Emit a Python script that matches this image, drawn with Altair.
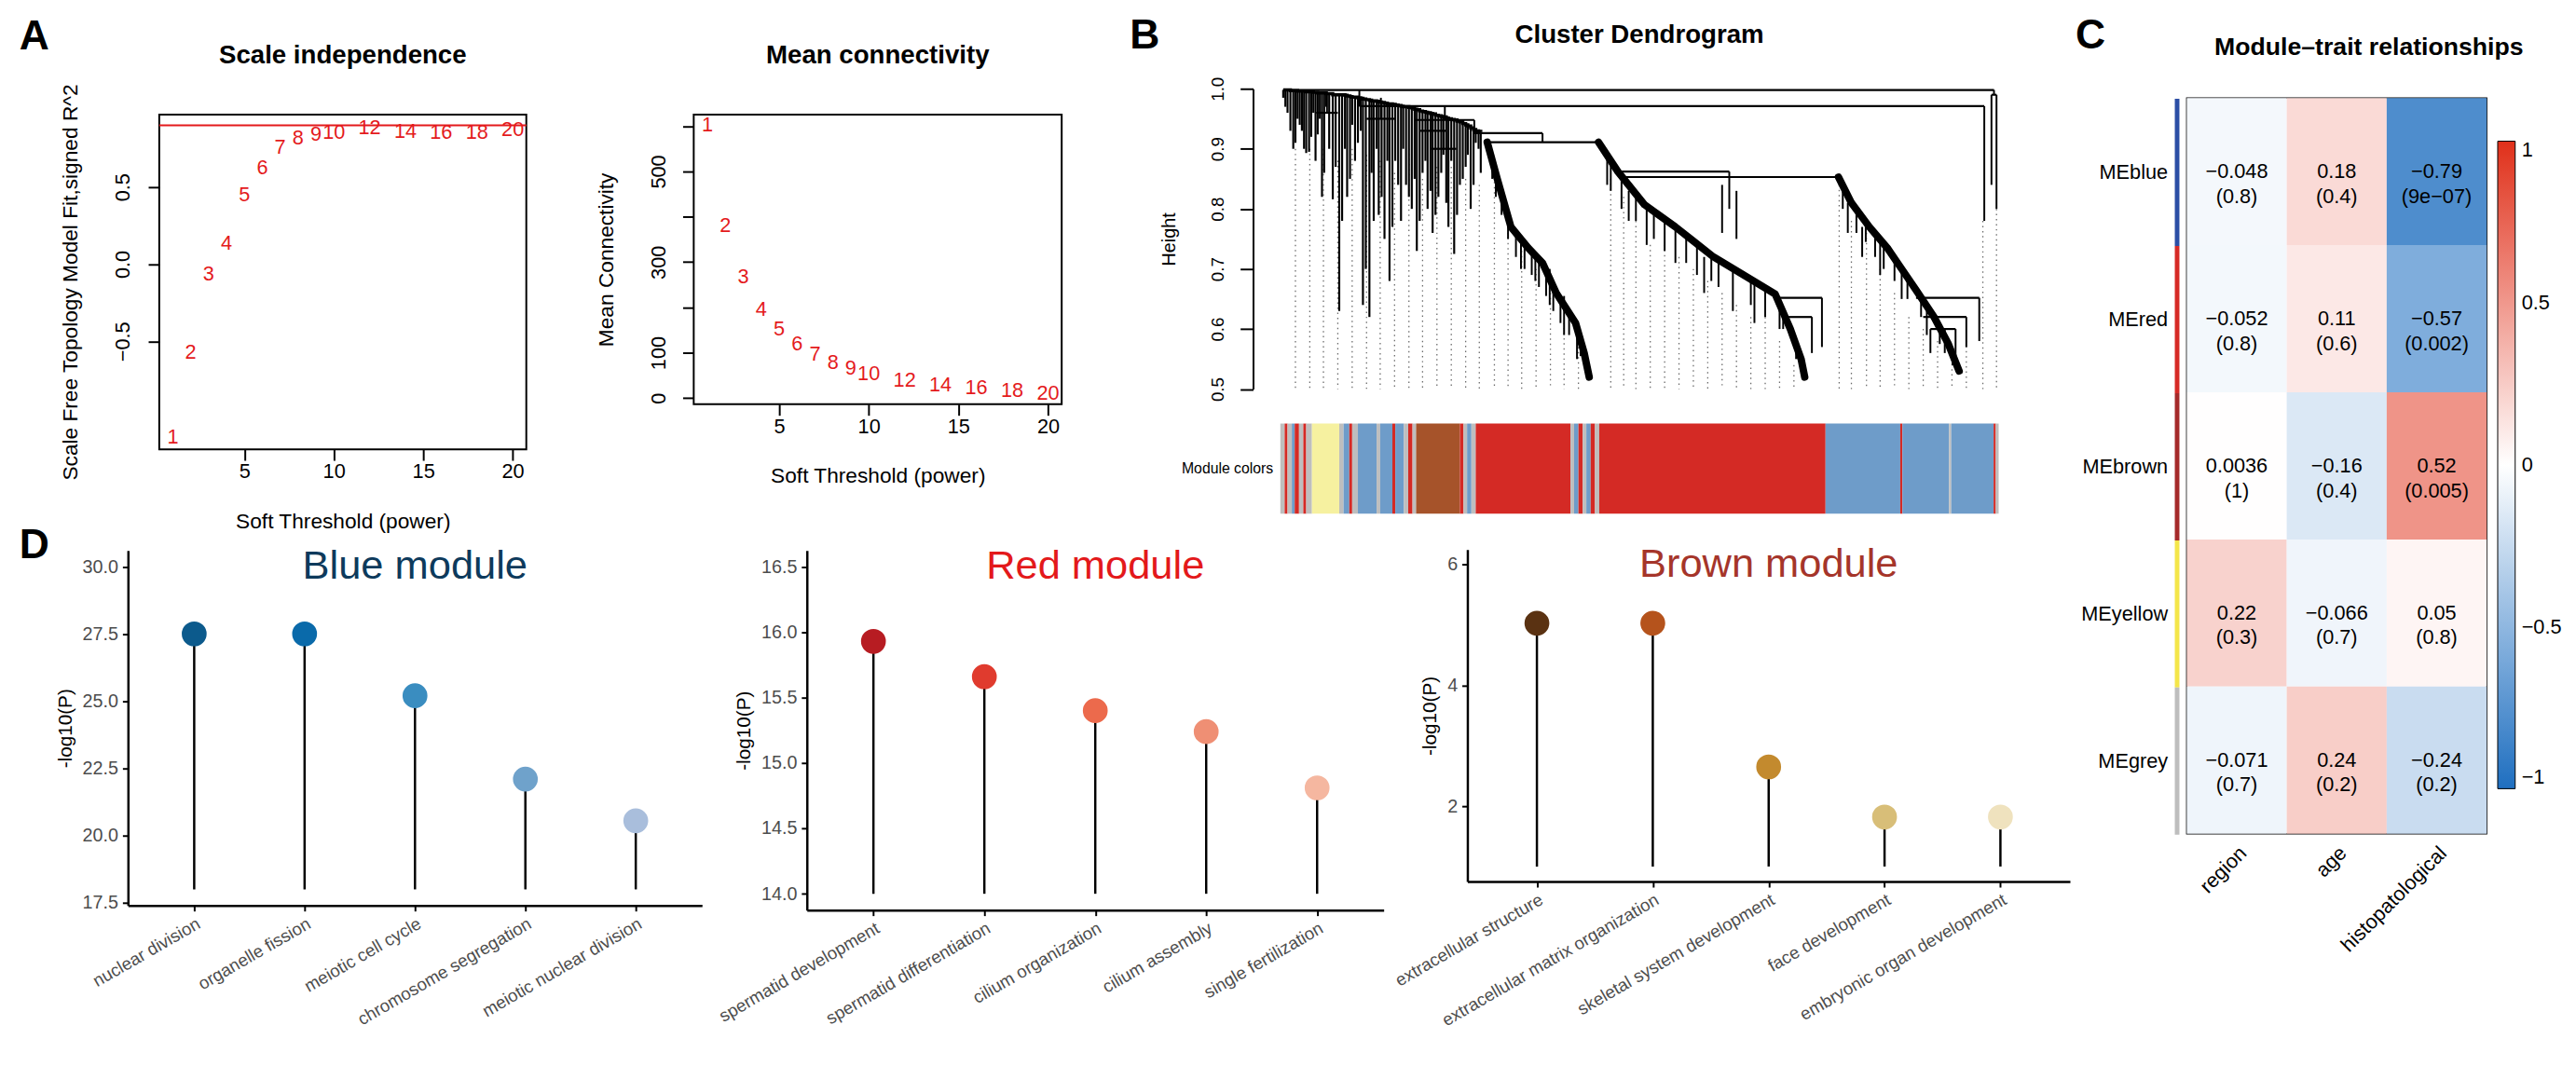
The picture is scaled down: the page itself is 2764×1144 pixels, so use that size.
import altair as alt
import pandas as pd

FONT = "Liberation Sans"
NUM_RED = "#E41A1C"

# ---------------- A : soft threshold ----------------
powers = [1, 2, 3, 4, 5, 6, 7, 8, 9, 10, 12, 14, 16, 18, 20]
sft_r2 = [-1.12, -0.57, -0.065, 0.137, 0.45, 0.625, 0.756, 0.82, 0.84, 0.857,
          0.887, 0.863, 0.857, 0.857, 0.87]
mean_k = [602, 381, 267, 196, 152, 120, 97, 79, 65, 54, 39, 29, 22, 17, 10]
r2_cutoff = [0.90]

# ---------------- B : dendrogram (leaf order units 0-100) ----------------
left_u = [0.4, 0.7, 1.0, 1.4, 1.8, 2.1, 2.4, 2.7, 3.0, 3.3, 3.6, 4.0, 4.3, 4.6, 4.9, 5.2,
          5.5, 5.8, 6.1, 6.4, 6.8, 7.3, 7.7, 8.2, 8.6, 9.0, 9.3, 9.7, 10.0, 10.4, 10.8,
          11.2, 11.5, 11.9, 12.4, 12.7, 13.0, 13.4, 13.7, 14.1, 14.5, 14.9, 15.2, 15.6,
          16.0, 16.4, 16.8, 17.1, 17.5, 17.9, 18.3, 18.7, 19.0, 19.4, 19.8, 20.2, 20.5,
          20.9, 21.2, 21.6, 22.0, 22.4, 22.7, 23.1, 23.4, 23.8, 24.2, 24.6, 25.0, 25.4,
          25.8, 26.1, 26.5, 26.9, 27.2, 27.6, 27.9]
left_top = [0.998, 0.998, 0.998, 0.997, 0.997, 0.997, 0.996, 0.996, 0.996, 0.996, 0.995,
            0.995, 0.995, 0.994, 0.994, 0.993, 0.993, 0.993, 0.993, 0.992, 0.992, 0.99,
            0.99, 0.99, 0.99, 0.989, 0.988, 0.987, 0.986, 0.986, 0.985, 0.984, 0.983,
            0.982, 0.981, 0.98, 0.98, 0.979, 0.978, 0.977, 0.976, 0.975, 0.975, 0.974,
            0.973, 0.972, 0.971, 0.97, 0.97, 0.969, 0.968, 0.966, 0.965, 0.963, 0.962,
            0.961, 0.96, 0.959, 0.958, 0.956, 0.955, 0.954, 0.953, 0.951, 0.95, 0.949,
            0.948, 0.946, 0.945, 0.942, 0.94, 0.938, 0.935, 0.932, 0.93, 0.929, 0.928]
left_bot = [0.985, 0.97, 0.96, 0.93, 0.90, 0.91, 0.95, 0.94, 0.93, 0.90, 0.893, 0.895,
            0.92, 0.96, 0.88, 0.924, 0.95, 0.82, 0.86, 0.97, 0.90, 0.816, 0.87, 0.63,
            0.78, 0.90, 0.82, 0.85, 0.94, 0.88, 0.91, 0.93, 0.64, 0.70, 0.62, 0.86, 0.78,
            0.90, 0.79, 0.82, 0.75, 0.88, 0.68, 0.77, 0.88, 0.84, 0.78, 0.90, 0.84, 0.82,
            0.80, 0.85, 0.73, 0.78, 0.86, 0.88, 0.80, 0.83, 0.76, 0.79, 0.82, 0.86, 0.89,
            0.81, 0.77, 0.88, 0.725, 0.79, 0.84, 0.85, 0.87, 0.89, 0.80, 0.84, 0.91, 0.90,
            0.86]
vert_u = [99.35, 99.0, 99.7, 98.0, 11.0, 22.9, 27.0, 36.5, 62.5, 61.5, 63.5, 75.4, 74.0,
          97.3, 95.5, 94.0, 90.5, 6.5, 14.0, 21.2, 22.75,
          29.5, 30.0, 30.8, 31.7, 32.8, 33.5, 34.0, 35.0, 35.5, 36.0, 37.0, 37.5, 38.0,
          39.0, 39.5, 40.2, 41.3, 41.8, 42.6,
          45.5, 46.0, 47.5, 48.5, 49.5, 51.0, 52.0, 53.5, 55.0, 56.5, 58.0, 59.0, 60.0,
          61.0, 63.0, 65.5, 66.0, 67.5, 69.5, 70.0, 71.8, 72.5,
          78.3, 79.0, 80.2, 81.0, 81.5, 82.8, 83.5, 84.0, 85.5, 86.5, 87.3, 89.2, 90.0,
          91.8, 92.5, 93.6]
vert_top = [0.998, 0.99, 0.99, 0.971, 0.998, 0.971, 0.948, 0.926, 0.862, 0.84, 0.83, 0.652,
            0.62, 0.652, 0.62, 0.60, 0.60, 0.993, 0.985, 0.958, 0.93,
            0.88, 0.87, 0.83, 0.80, 0.76, 0.745, 0.74, 0.73, 0.725, 0.715, 0.69, 0.70,
            0.67, 0.645, 0.655, 0.625, 0.60, 0.585, 0.55,
            0.885, 0.88, 0.855, 0.83, 0.82, 0.80, 0.795, 0.78, 0.765, 0.755, 0.74, 0.72,
            0.722, 0.71, 0.695, 0.682, 0.675, 0.665, 0.652, 0.63, 0.58, 0.55,
            0.84, 0.81, 0.80, 0.77, 0.78, 0.76, 0.745, 0.74, 0.72, 0.705, 0.685, 0.655,
            0.635, 0.605, 0.60, 0.565]
vert_bot = [0.99, 0.84, 0.80, 0.78, 0.971, 0.948, 0.926, 0.911, 0.80, 0.76, 0.75, 0.57,
            0.56, 0.58, 0.57, 0.555, 0.56, 0.96, 0.95, 0.93, 0.90,
            0.85, 0.82, 0.79, 0.75, 0.72, 0.70, 0.70, 0.69, 0.68, 0.67, 0.655, 0.64,
            0.63, 0.61, 0.59, 0.59, 0.55, 0.555, 0.53,
            0.84, 0.83, 0.80, 0.78, 0.78, 0.74, 0.75, 0.73, 0.71, 0.71, 0.69, 0.66,
            0.68, 0.67, 0.63, 0.64, 0.61, 0.62, 0.60, 0.60, 0.55, 0.53,
            0.80, 0.76, 0.76, 0.72, 0.745, 0.72, 0.69, 0.70, 0.68, 0.65, 0.65, 0.62,
            0.59, 0.575, 0.56, 0.54]
hor_u1 = [0.4, 11.0, 18.8, 27.0, 28.8, 47.0, 48.0, 99.0, 69.0, 70.0, 88.5, 89.5, 90.5,
          5.0, 12.0, 19.5, 21.0]
hor_u2 = [99.35, 98.0, 27.0, 36.5, 44.3, 62.5, 77.7, 99.7, 75.4, 74.0, 97.3, 95.5, 94.0,
          8.0, 16.0, 23.0, 24.5]
hor_h = [0.998, 0.971, 0.948, 0.926, 0.911, 0.862, 0.853, 0.99, 0.652, 0.62, 0.652, 0.62,
         0.60, 0.96, 0.95, 0.93, 0.90]
casc_id = [1] * 9 + [2] * 10 + [3] * 9
casc_u = [28.8, 30.2, 32.1, 34.5, 36.5, 38.4, 41.1, 42.3, 43.0,
          44.3, 47.0, 50.7, 55.0, 60.3, 64.5, 68.9, 71.0, 72.5, 73.0,
          77.7, 79.5, 82.0, 84.5, 86.5, 88.5, 91.0, 93.0, 94.5]
casc_h = [0.911, 0.85, 0.77, 0.735, 0.71, 0.66, 0.61, 0.56, 0.52,
          0.911, 0.862, 0.807, 0.77, 0.72, 0.69, 0.658, 0.60, 0.55, 0.52,
          0.853, 0.81, 0.77, 0.735, 0.70, 0.665, 0.62, 0.575, 0.53]
guide_u = [2.1, 4.1, 6.0, 8.0, 10.0, 12.0, 13.9, 15.9, 17.9, 19.8, 21.8, 23.8, 25.8, 27.7,
           29.8, 31.7, 33.6, 35.6, 37.6, 39.5, 41.5, 46.0, 47.8, 49.5, 51.5, 53.5, 55.5,
           57.5, 59.5, 61.5, 63.5, 65.5, 67.5, 69.5, 71.5, 77.8, 79.5, 81.6, 83.5, 85.5,
           87.5, 89.5, 91.5, 93.5, 95.5, 97.8, 99.7]
guide_top = [0.90, 0.90, 0.90, 0.88, 0.90, 0.89, 0.88, 0.86, 0.90, 0.85, 0.87, 0.87, 0.85,
             0.84, 0.87, 0.76, 0.73, 0.70, 0.66, 0.61, 0.57, 0.85, 0.82, 0.78, 0.74, 0.74,
             0.72, 0.70, 0.68, 0.66, 0.64, 0.62, 0.62, 0.58, 0.54, 0.84, 0.78, 0.76, 0.70,
             0.66, 0.62, 0.60, 0.58, 0.55, 0.58, 0.78, 0.80]
seg_start = [0.0, 0.6, 1.0, 1.6, 2.0, 2.6, 3.2, 3.6, 4.4, 8.2, 8.8, 9.6, 10.0, 10.8, 13.4,
             13.9, 15.6, 16.0, 17.2, 17.8, 18.4, 18.9, 25.0, 25.5, 26.0, 26.6, 27.2, 40.4,
             40.9, 41.5, 42.1, 42.6, 43.2, 43.8, 44.4, 75.9, 86.3, 86.6, 93.1, 93.4, 99.3,
             99.6]
seg_end = [0.6, 1.0, 1.6, 2.0, 2.6, 3.2, 3.6, 4.4, 8.2, 8.8, 9.6, 10.0, 10.8, 13.4, 13.9,
           15.6, 16.0, 17.2, 17.8, 18.4, 18.9, 25.0, 25.5, 26.0, 26.6, 27.2, 40.4, 40.9,
           41.5, 42.1, 42.6, 43.2, 43.8, 44.4, 75.9, 86.3, 86.6, 93.1, 93.4, 99.3, 99.6,
           100.0]
seg_color = ["grey", "red", "grey", "blue", "red", "grey", "red", "grey", "yellow", "grey",
             "blue", "red", "grey", "blue", "grey", "blue", "red", "blue", "grey", "red",
             "grey", "brown", "red", "grey", "blue", "grey", "red", "grey", "blue", "red",
             "grey", "blue", "red", "grey", "red", "blue", "red", "blue", "grey", "blue",
             "red", "grey"]
module_names = ["grey", "red", "blue", "yellow", "brown"]
module_hex = ["#BEBEBE", "#D42A25", "#6E9CC9", "#F6F1A0", "#A6532A"]

# ---------------- C : module-trait heatmap ----------------
me_rows = ["MEblue", "MEred", "MEbrown", "MEyellow", "MEgrey"]
me_strip = ["#2B4EA5", "#D62A26", "#A52A2A", "#F4E64A", "#BEBEBE"]
traits = ["region", "age", "histopatological"]
cor_vals = [[-0.048, 0.18, -0.79],
            [-0.052, 0.11, -0.57],
            [0.0036, -0.16, 0.52],
            [0.22, -0.066, 0.05],
            [-0.071, 0.24, -0.24]]
p_text = [["0.8", "0.4", "9e\u221207"],
          ["0.8", "0.6", "0.002"],
          ["1", "0.4", "0.005"],
          ["0.3", "0.7", "0.8"],
          ["0.7", "0.2", "0.2"]]

# ---------------- D : GO lollipops ----------------
blue_terms = ["nuclear division", "organelle fission", "meiotic cell cycle",
              "chromosome segregation", "meiotic nuclear division"]
blue_logp = [27.5, 27.5, 25.2, 22.1, 20.55]
blue_cols = ["#0C5A8C", "#0A6AAA", "#3A8DC0", "#6FA2CB", "#A9BEDC"]
red_terms = ["spermatid development", "spermatid differentiation", "cilium organization",
             "cilium assembly", "single fertilization"]
red_logp = [15.93, 15.66, 15.40, 15.24, 14.81]
red_cols = ["#B71C22", "#E03B2E", "#EC6A4C", "#EF8F74", "#F5B7A0"]
brown_terms = ["extracellular structure", "extracellular matrix organization",
               "skeletal system development", "face development",
               "embryonic organ development"]
brown_logp = [5.03, 5.03, 2.65, 1.82, 1.82]
brown_cols = ["#5A3212", "#B5531C", "#C38A2E", "#D8BE78", "#EFE2BE"]
seg_base = [18.0, 14.0, 1.0]
mod_titles = ["Blue module", "Red module", "Brown module"]
mod_title_cols = ["#0D3A5C", "#E3191B", "#A5352A"]
mod_title_y = [30.0, 16.5, 6.0]


# ======================================================================
def frame(L, T, R, B, w, h):
    """invisible box fixing the layout bounds of a panel"""
    return alt.Chart(pd.DataFrame({"f": [0]})).mark_rect(opacity=0).encode(
        x=alt.value(-L), x2=alt.value(w + R), y=alt.value(-T), y2=alt.value(h + B))


def dummy():
    return alt.Chart(pd.DataFrame({"d": [0]})).mark_rect(opacity=0).encode(
        x=alt.value(0), x2=alt.value(0), y=alt.value(0), y2=alt.value(0)).properties(
        width=1, height=1)


def hc(*charts):
    return alt.hconcat(*charts, spacing=0).resolve_scale(color="independent")


def vc(*charts):
    return alt.vconcat(*charts, spacing=0).resolve_scale(color="independent")


def N(panel):
    """normalise: the panel's frame top-left becomes the group origin"""
    return hc(dummy(), vc(dummy(), panel))


def letter(ch, dx, dy):
    return alt.Chart(pd.DataFrame({"t": [ch]})).mark_text(
        align="left", baseline="alphabetic", fontSize=45, fontWeight="bold",
        font=FONT, color="black").encode(x=alt.value(dx), y=alt.value(dy), text="t:N")


def heading(txt, dx, dy, size=28):
    return alt.Chart(pd.DataFrame({"t": [txt]})).mark_text(
        align="center", baseline="alphabetic", fontSize=size, fontWeight="bold",
        font=FONT, color="black").encode(x=alt.value(dx), y=alt.value(dy), text="t:N")


R_AX = dict(grid=False, domain=False, tickColor="black", tickWidth=2, tickSize=12,
            labelFontSize=22, labelFont=FONT, labelColor="black",
            titleFontSize=23, titleFont=FONT, titleFontWeight="normal",
            titleColor="black")

# ---------------- letters column ----------------
LET_W, FULL_H = 46, 1126
letters = alt.layer(letter("A", 12, 37), letter("D", 12, 590),
                    frame(0, 0, 0, 0, LET_W, FULL_H)).properties(width=LET_W,
                                                                height=FULL_H)

# ---------------- A1 ----------------
A1_W, A2_W = 399, 400
A1_H, A2_H = 364, 315
dfA = pd.DataFrame({"power": powers, "r2": sft_r2, "k": mean_k,
                    "lab": [str(p) for p in powers]})
xA = alt.X("power:Q", scale=alt.Scale(domain=[0.24, 20.76], nice=False, zero=False),
           axis=alt.Axis(values=[5, 10, 15, 20], title="Soft Threshold (power)",
                         labelPadding=2, titlePadding=32, labelFlush=False, **R_AX))
yA1 = alt.Y("r2:Q", scale=alt.Scale(domain=[-1.2, 0.97], nice=False, zero=False),
            axis=alt.Axis(values=[-0.5, 0.0, 0.5], format=".1f",
                          title="Scale Free Topology Model Fit,signed R^2",
                          labelAngle=-90, labelAlign="center", labelBaseline="bottom",
                          labelPadding=16, titlePadding=34, labelFlush=False, **R_AX))
A1_txt = alt.Chart(dfA).mark_text(fontSize=22, font=FONT, color=NUM_RED).encode(
    x=xA, y=yA1, text="lab:N")
A1_line = alt.Chart(pd.DataFrame({"r2": r2_cutoff})).mark_rule(
    color=NUM_RED, strokeWidth=2).encode(y=alt.Y("r2:Q"))
A1 = alt.layer(A1_line, A1_txt, heading("Scale independence", A1_W / 2, -56),
               frame(116, 107, 41, 99, A1_W, A1_H)).properties(
    width=A1_W, height=A1_H, view=alt.ViewBackground(stroke="black", strokeWidth=2))

# ---------------- A2 ----------------
yA2 = alt.Y("k:Q", scale=alt.Scale(domain=[-13.7, 625.7], nice=False, zero=False),
            axis=alt.Axis(values=[0, 100, 200, 300, 400, 500, 600],
                          labelExpr="(datum.value == 200 || datum.value == 400 || datum.value == 600) ? '' : datum.label",
                          title="Mean Connectivity", labelAngle=-90, labelAlign="center",
                          labelBaseline="bottom", labelPadding=14, titlePadding=34,
                          labelFlush=False, **R_AX))
A2_txt = alt.Chart(dfA).mark_text(fontSize=22, font=FONT, color=NUM_RED).encode(
    x=xA, y=yA2, text="lab:N")
A2 = alt.layer(A2_txt, heading("Mean connectivity", A2_W / 2, -56),
               frame(138, 107, 42, 148, A2_W, A2_H)).properties(
    width=A2_W, height=A2_H, view=alt.ViewBackground(stroke="black", strokeWidth=2))

# ---------------- B ----------------
D_W = 823
D_H = 326.5
BAR_H = 98
xU = alt.Scale(domain=[-3.8, 101.6], nice=False, zero=False)
yHax = alt.Axis(values=[0.5, 0.6, 0.7, 0.8, 0.9, 1.0], format=".1f", title="Height",
                grid=False, domain=True, domainColor="black", domainWidth=2,
                tickColor="black", tickWidth=2, tickSize=14, labelFontSize=19,
                labelFont=FONT, labelColor="black", labelAngle=-90, labelAlign="center",
                labelBaseline="bottom", labelPadding=14, titleFontSize=20,
                titleFont=FONT, titleFontWeight="normal", titleColor="black",
                titlePadding=34, labelFlush=False)
yH = alt.Scale(domain=[0.5, 1.0], nice=False, zero=False)

df_guide = pd.DataFrame({"u": guide_u, "top": guide_top, "bot": [0.5] * len(guide_u)})
g_guide = alt.Chart(df_guide).mark_rule(color="#6a6a6a", strokeWidth=1.3,
                                        strokeDash=[1.5, 4]).encode(
    x=alt.X("u:Q", scale=xU, axis=None), y=alt.Y("top:Q", scale=yH, axis=yHax),
    y2="bot:Q")
df_left = pd.DataFrame({"u": left_u, "top": left_top, "bot": left_bot})
g_left = alt.Chart(df_left).mark_rule(color="black", strokeWidth=2.2).encode(
    x=alt.X("u:Q", scale=xU, axis=None), y=alt.Y("top:Q", scale=yH, axis=yHax),
    y2="bot:Q")
g_stair = alt.Chart(df_left).mark_line(color="black", strokeWidth=3.5,
                                       interpolate="step-after").encode(
    x=alt.X("u:Q", scale=xU, axis=None), y=alt.Y("top:Q", scale=yH, axis=yHax))
df_vert = pd.DataFrame({"u": vert_u, "top": vert_top, "bot": vert_bot})
g_vert = alt.Chart(df_vert).mark_rule(color="black", strokeWidth=2).encode(
    x=alt.X("u:Q", scale=xU, axis=None), y=alt.Y("top:Q", scale=yH, axis=yHax),
    y2="bot:Q")
df_hor = pd.DataFrame({"u1": hor_u1, "u2": hor_u2, "h": hor_h})
g_hor = alt.Chart(df_hor).mark_rule(color="black", strokeWidth=2.2).encode(
    x=alt.X("u1:Q", scale=xU, axis=None), x2="u2:Q",
    y=alt.Y("h:Q", scale=yH, axis=yHax))
df_casc = pd.DataFrame({"cid": casc_id, "u": casc_u, "h": casc_h})
g_casc = alt.Chart(df_casc).mark_line(color="black", strokeWidth=8, strokeCap="round",
                                      strokeJoin="round").encode(
    x=alt.X("u:Q", scale=xU, axis=None), y=alt.Y("h:Q", scale=yH, axis=yHax),
    detail="cid:N")
dendro = alt.layer(g_guide, g_left, g_stair, g_vert, g_hor, g_casc,
                   heading("Cluster Dendrogram", 420, -50),
                   letter("B", -134, -44),
                   frame(164, 79, 37, 22.5, D_W, D_H)).properties(width=D_W, height=D_H)

df_seg = pd.DataFrame({"s": seg_start, "e": seg_end, "m": seg_color})
bar = alt.Chart(df_seg).mark_rect().encode(
    x=alt.X("s:Q", scale=xU, axis=None), x2="e:Q",
    y=alt.value(0), y2=alt.value(BAR_H),
    color=alt.Color("m:N", scale=alt.Scale(domain=module_names, range=module_hex),
                    legend=None))
bar_lab = alt.Chart(pd.DataFrame({"t": ["Module colors"]})).mark_text(
    align="right", baseline="middle", fontSize=16, font=FONT, color="black").encode(
    x=alt.value(22), y=alt.value(BAR_H / 2), text="t:N")
barc = alt.layer(bar, bar_lab, frame(164, 14, 37, 30, D_W, BAR_H)).properties(
    width=D_W, height=BAR_H)

# ---------------- C ----------------
H_W = 326
H_H = 800
rows_l, tr_l, r_l, lab_l = [], [], [], []
for i, rname in enumerate(me_rows):
    for j, tname in enumerate(traits):
        v = cor_vals[i][j]
        rows_l.append(rname)
        tr_l.append(tname)
        r_l.append(v)
        lab_l.append(str(v).replace("-", "\u2212") + "\n(" + p_text[i][j] + ")")
df_heat = pd.DataFrame({"row": rows_l, "trait": tr_l, "r": r_l, "lab": lab_l})
heat_scale = alt.Scale(domain=[-1, -0.5, 0, 0.5, 1],
                       range=["#1F6FC0", "#8FB7E0", "#FFFFFF", "#F0988D", "#E0301A"],
                       interpolate="rgb")
heat_rect = alt.Chart(df_heat).mark_rect(opacity=1).encode(
    x=alt.X("trait:N", sort=traits, scale=alt.Scale(paddingInner=0, paddingOuter=0),
            axis=alt.Axis(title=None, labelAngle=-45, labelAlign="right",
                          labelBaseline="top", ticks=False, domain=False,
                          labelFontSize=22, labelFont=FONT, labelColor="black",
                          labelPadding=10, labelLimit=0)),
    y=alt.Y("row:N", sort=me_rows, scale=alt.Scale(paddingInner=0, paddingOuter=0),
            axis=None),
    color=alt.Color("r:Q", scale=heat_scale,
                    legend=alt.Legend(orient="none", legendX=338, legendY=47,
                                      direction="vertical", gradientLength=704,
                                      gradientThickness=19, title=None,
                                      values=[-1, -0.5, 0, 0.5, 1],
                                      labelExpr="datum.value == 1 ? '1' : datum.value == 0.5 ? '0.5' : datum.value == 0 ? '0' : datum.value == -0.5 ? '\u22120.5' : '\u22121'",
                                      labelFontSize=22, labelFont=FONT,
                                      labelColor="black", labelOffset=7,
                                      labelBaseline="middle",
                                      gradientStrokeColor="black",
                                      gradientStrokeWidth=1)))
heat_txt = alt.Chart(df_heat).mark_text(fontSize=22, font=FONT, color="black",
                                        lineBreak="\n", lineHeight=27,
                                        baseline="middle").encode(
    x=alt.X("trait:N", sort=traits), y=alt.Y("row:N", sort=me_rows), text="lab:N")
heat = alt.layer(heat_rect, heat_txt,
                 heading("Module\u2013trait relationships", 198, -47, size=27),
                 frame(5, 89, 88, 237, H_W, H_H)).properties(
    width=H_W, height=H_H, view=alt.ViewBackground(stroke="black", strokeWidth=1.5))

df_strip = pd.DataFrame({"row": me_rows, "c": me_strip})
strip_rect = alt.Chart(df_strip).mark_rect().encode(
    y=alt.Y("row:N", sort=me_rows, scale=alt.Scale(paddingInner=0, paddingOuter=0),
            axis=alt.Axis(title=None, ticks=False, domain=False, labelFontSize=22,
                          labelFont=FONT, labelColor="black", labelPadding=8,
                          labelLimit=0)),
    color=alt.Color("c:N", scale=None))
strip = alt.layer(strip_rect, letter("C", -108, -55),
                  frame(111, 89, 1, 237, 5, H_H)).properties(width=5, height=H_H)


# ---------------- D ----------------
def lollipop(terms, vals, cols, base, ttl, ttl_col, ttl_y, ydom, yticks, yfmt, w, h,
             fr):
    df = pd.DataFrame({"term": terms, "v": vals, "c": cols, "base": [base] * len(terms)})
    x = alt.X("term:N", sort=terms, scale=alt.Scale(type="point", padding=0.6),
              axis=alt.Axis(title=None, labelAngle=-30, labelAlign="right",
                            labelBaseline="top", labelFontSize=19,
                            labelColor="#4D4D4D", labelFont=FONT, domainColor="black",
                            domainWidth=2.5, tickColor="black", tickWidth=2,
                            tickSize=6, labelPadding=4, labelLimit=0))
    y = alt.Y("v:Q", scale=alt.Scale(domain=ydom, nice=False, zero=False),
              axis=alt.Axis(title="-log10(P)", values=yticks, format=yfmt, grid=False,
                            domainColor="black", domainWidth=2.5, tickColor="black",
                            tickWidth=2, tickSize=6, labelFontSize=20,
                            labelColor="#4D4D4D", labelFont=FONT, labelPadding=5,
                            titleFontSize=21, titleFont=FONT, titleFontWeight="normal",
                            titleColor="black", titlePadding=8))
    seg = alt.Chart(df).mark_rule(color="black", strokeWidth=2.5).encode(
        x=x, y=y, y2="base:Q")
    dots = alt.Chart(df).mark_circle(size=730, opacity=1).encode(
        x=x, y=y, color=alt.Color("c:N", scale=None))
    tdf = pd.DataFrame({"term": [terms[2]], "v": [ttl_y], "t": [ttl]})
    tt = alt.Chart(tdf).mark_text(fontSize=44, font=FONT, color=ttl_col,
                                  baseline="middle").encode(x=x, y=y, text="t:N")
    return alt.layer(seg, dots, tt, frame(*fr, w, h)).properties(width=w, height=h)


D1 = lollipop(blue_terms, blue_logp, blue_cols, seg_base[0], mod_titles[0],
              mod_title_cols[0], mod_title_y[0], [17.4, 30.6],
              [17.5, 20.0, 22.5, 25.0, 27.5, 30.0], ".1f", 624, 386, (83, 9, 14, 161))
D2 = lollipop(red_terms, red_logp, red_cols, seg_base[1], mod_titles[1],
              mod_title_cols[1], mod_title_y[1], [13.875, 16.625],
              [14.0, 14.5, 15.0, 15.5, 16.0, 16.5], ".1f", 627, 391, (87, 9, 8, 156))
D3 = lollipop(brown_terms, brown_logp, brown_cols, seg_base[2], mod_titles[2],
              mod_title_cols[2], mod_title_y[2], [0.75, 6.25], [2, 4, 6], "d", 655, 361,
              (60, 8, 2, 187))

# ---------------- assemble (normalised frames tile the page) ----------------
top_row = hc(N(A1), N(A2), vc(N(dendro), N(barc)))
bottom_row = hc(N(D1), N(D2), N(D3))
chart = hc(N(letters), vc(top_row, bottom_row), N(strip), N(heat)).properties(
    padding={"left": 0, "top": 0, "right": 0, "bottom": 0}
).configure(font=FONT, background="white").configure_view(stroke=None)

chart.save("out.html", embed_options={"renderer": "svg", "actions": False})
